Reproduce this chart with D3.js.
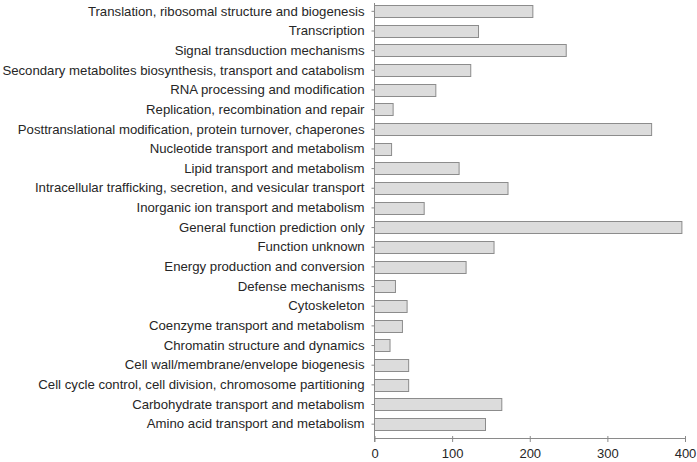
<!DOCTYPE html>
<html><head><meta charset="utf-8">
<script src="https://cdn.jsdelivr.net/npm/d3@7"></script>
<style>body{margin:0;background:#fff}svg{display:block}</style>
</head><body>
<svg id="c" width="697" height="462"></svg>
<script>
const categories = [
  "Translation, ribosomal structure and biogenesis",
  "Transcription",
  "Signal transduction mechanisms",
  "Secondary metabolites biosynthesis, transport and catabolism",
  "RNA processing and modification",
  "Replication, recombination and repair",
  "Posttranslational modification, protein turnover, chaperones",
  "Nucleotide transport and metabolism",
  "Lipid transport and metabolism",
  "Intracellular trafficking, secretion, and vesicular transport",
  "Inorganic ion transport and metabolism",
  "General function prediction only",
  "Function unknown",
  "Energy production and conversion",
  "Defense mechanisms",
  "Cytoskeleton",
  "Coenzyme transport and metabolism",
  "Chromatin structure and dynamics",
  "Cell wall/membrane/envelope biogenesis",
  "Cell cycle control, cell division, chromosome partitioning",
  "Carbohydrate transport and metabolism",
  "Amino acid transport and metabolism"
];
const values = [204, 134, 247, 124, 79, 24, 357, 22, 109, 172, 64, 396, 154, 118, 27, 42, 36, 20, 44, 44, 164, 143];
const xTicks = [0, 100, 200, 300, 400];

const svg = d3.select("#c");
const x0 = 374.5, x1 = 685, yTop = 1.5, yBot = 434, axisY = 438;
const x = d3.scaleLinear().domain([0, 400]).range([x0, x1]);
const y = d3.scaleBand().domain(categories).range([yTop, yBot]).paddingInner(0.37).paddingOuter(0.185);

const font = "'Liberation Sans', Arial, sans-serif";
const axisColor = "#8a8a8a";

svg.append("g").selectAll("rect").data(categories).join("rect")
  .attr("x", x(0))
  .attr("y", d => Math.round(y(d)) + 0.5)
  .attr("width", (d, i) => x(values[i]) - x(0))
  .attr("height", Math.round(y.bandwidth()))
  .attr("fill", "#dcdcdc")
  .attr("stroke", "#8c8c8c")
  .attr("stroke-width", 1);

// y axis
const yAxis = svg.append("g").attr("transform", `translate(${x0},0)`)
  .call(d3.axisLeft(y).tickSize(3).tickPadding(7));
yAxis.select(".domain").remove();
yAxis.append("line").attr("x1", 0).attr("x2", 0).attr("y1", 3).attr("y2", axisY + 4).attr("stroke", axisColor);
yAxis.selectAll(".tick line").attr("stroke", axisColor);
yAxis.selectAll(".tick text").attr("fill", "#262626").style("font-family", font).style("font-size", "13.2px");

// x axis
const xAxis = svg.append("g").attr("transform", `translate(0,${axisY})`)
  .call(d3.axisBottom(x).tickValues(xTicks).tickSize(4).tickPadding(7).tickSizeOuter(0));
xAxis.select(".domain").attr("stroke", axisColor);
xAxis.selectAll(".tick line").attr("stroke", axisColor).attr("y1", -2);
xAxis.selectAll(".tick text").attr("fill", "#262626").style("font-family", font).style("font-size", "13px");
</script>
</body></html>
